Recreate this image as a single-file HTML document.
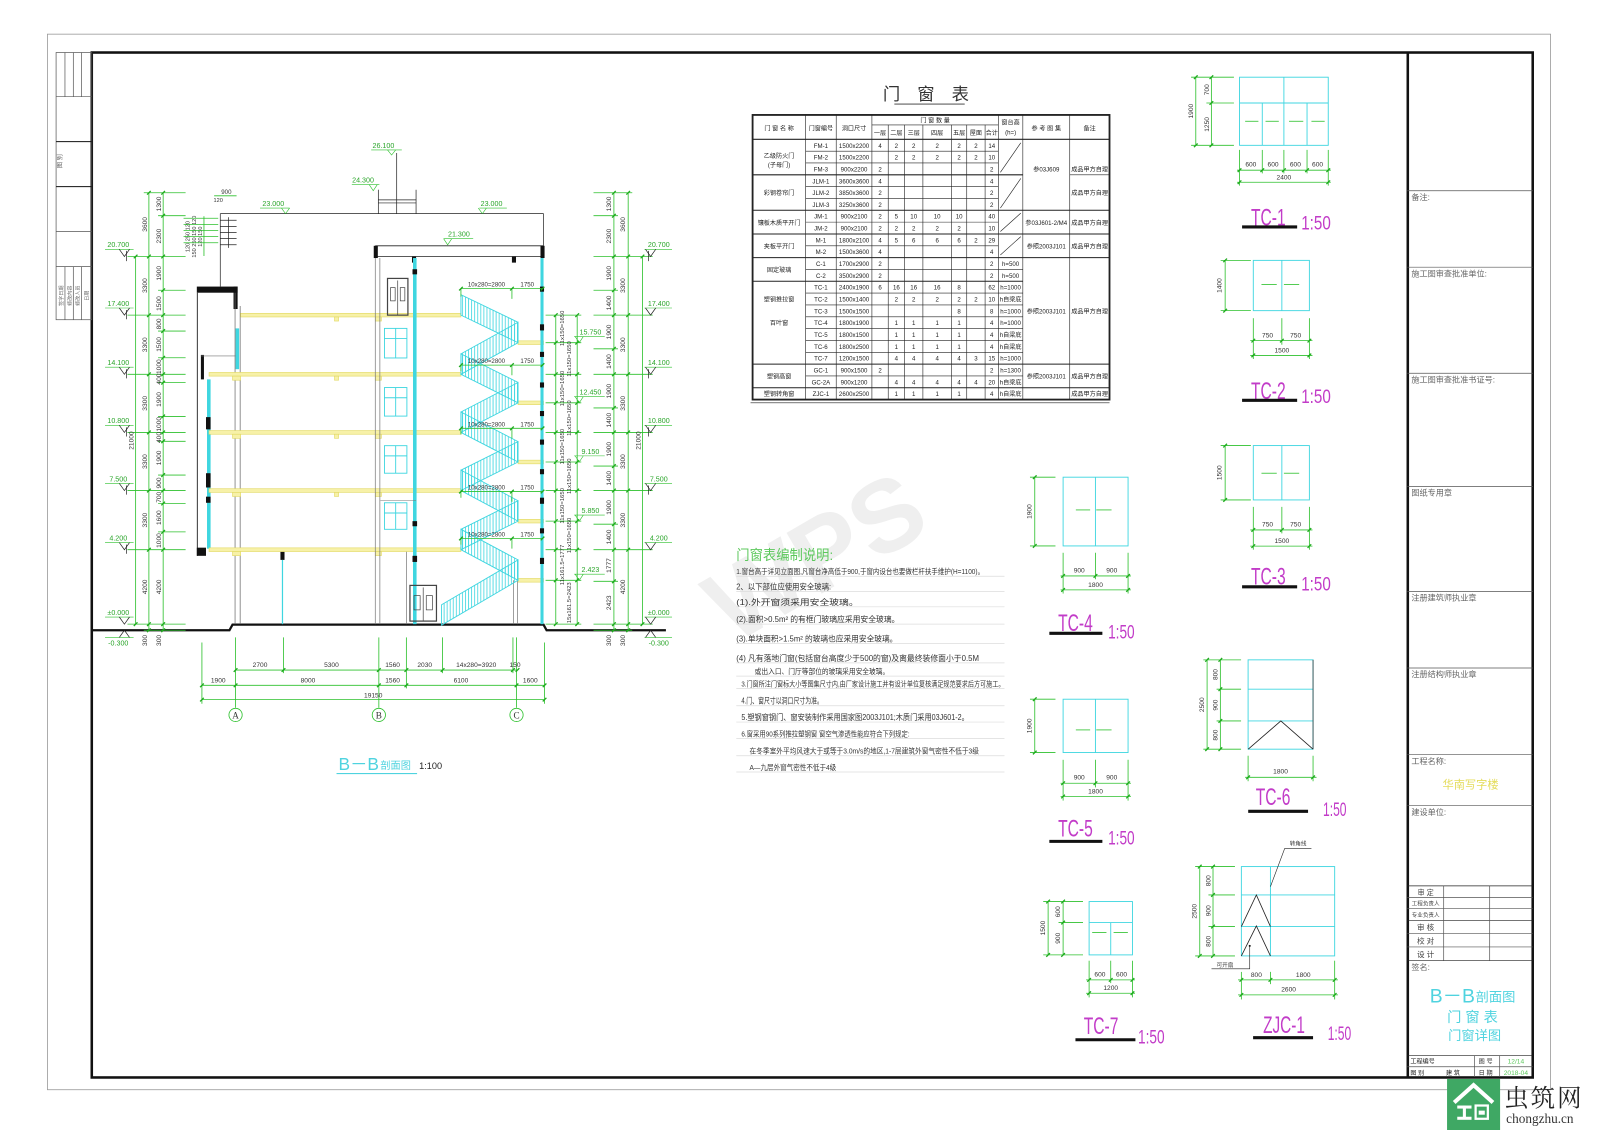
<!DOCTYPE html>
<html><head><meta charset="utf-8">
<style>
html,body{margin:0;padding:0;background:#fff;width:1599px;height:1130px;overflow:hidden}
svg{display:block}
text{font-family:"Liberation Sans","Noto Sans CJK SC",sans-serif}
.t{font-size:6.5px;fill:#333}
.tm{font-size:6.5px;fill:#333;text-anchor:middle}
.e{font-size:7px;fill:#2aa52a;text-anchor:middle}
.tb{font-size:6px;fill:#222;text-anchor:middle}
.n{font-size:8px;fill:#333}
.tt{font-size:8px;fill:#666}
.mg{fill:#c23cc8;font-size:24px}
.ms{fill:#c23cc8;font-size:19px}
.d{stroke:#2cc02c;stroke-width:0.8;fill:none}
.cy{stroke:#3fd6e0;fill:none}
.k{stroke:#222;fill:none}
</style></head><body>
<svg width="1599" height="1130" viewBox="0 0 1568 1108" preserveAspectRatio="none">
<defs>
<pattern id="bal" width="3" height="40" patternUnits="userSpaceOnUse"><line x1="0.5" y1="0" x2="0.5" y2="40" stroke="#3fd6e0" stroke-width="0.8"/></pattern>
<path id="tk" d="M-1.8,1.8L1.8,-1.8" stroke="#1faa1f" stroke-width="1.3" fill="none"/>
</defs>

<!-- frames -->
<rect x="46.5" y="33.5" width="1474" height="1035" fill="none" stroke="#9a9a9a" stroke-width="0.8"/>
<rect x="90" y="51.5" width="1413" height="1005" fill="none" stroke="#111" stroke-width="2.5"/>
<line x1="1380.5" y1="51.5" x2="1380.5" y2="1056.5" stroke="#111" stroke-width="2.5"/>

<!-- left strip -->
<g stroke="#555" stroke-width="0.7" fill="none">
<rect x="55" y="51.5" width="35" height="262"/>
<line x1="55" y1="94.8" x2="90" y2="94.8"/>
<line x1="55" y1="138.9" x2="90" y2="138.9" stroke="#111" stroke-width="1"/>
<line x1="55" y1="183" x2="90" y2="183" stroke="#111" stroke-width="1"/>
<line x1="55" y1="227.1" x2="90" y2="227.1"/>
<line x1="55" y1="261.4" x2="90" y2="261.4"/>
<line x1="63.7" y1="51.5" x2="63.7" y2="94.8"/><line x1="71.9" y1="51.5" x2="71.9" y2="94.8"/><line x1="80" y1="51.5" x2="80" y2="94.8"/>
<line x1="63.7" y1="261.4" x2="63.7" y2="313.5"/><line x1="71.9" y1="261.4" x2="71.9" y2="313.5"/><line x1="80" y1="261.4" x2="80" y2="313.5"/>
</g>
<text transform="translate(61,158) rotate(-90)" class="tt" style="font-size:6px" text-anchor="middle">图 别</text>
<text transform="translate(62,290) rotate(-90)" class="tt" style="font-size:5px" text-anchor="middle">签字日期</text>
<text transform="translate(70,290) rotate(-90)" class="tt" style="font-size:5px" text-anchor="middle">修改内容</text>
<text transform="translate(78,290) rotate(-90)" class="tt" style="font-size:5px" text-anchor="middle">修改人员</text>
<text transform="translate(87,290) rotate(-90)" class="tt" style="font-size:5px" text-anchor="middle">日期</text>

<!-- watermark -->
<text x="680" y="600" transform="rotate(-30 760 545)" font-size="100" font-weight="bold" fill="#efefef" font-family="Liberation Sans">WPS</text>

<!-- ===== SECTION B-B ===== -->
<!-- ground -->
<polyline points="91,618 225,618 228,612.5 533,612.5 536,618 653,618" fill="none" stroke="#111" stroke-width="2.2"/>

<!-- left part -->
<rect x="193" y="281" width="40" height="6" fill="#111"/>
<rect x="229" y="281" width="4" height="22" fill="#111"/>
<line x1="193.5" y1="287" x2="193.5" y2="545" class="k" stroke-width="0.9"/>
<rect x="197" y="348" width="3" height="24" fill="#111"/>
<line x1="197" y1="349" x2="232" y2="349" stroke="#777" stroke-width="0.6"/>
<rect x="203" y="372" width="3.5" height="166" fill="#3fd6e0"/>
<rect x="202" y="409" width="4.5" height="12" fill="#111"/>
<rect x="202" y="464" width="4.5" height="14" fill="#111"/>
<rect x="202" y="487" width="4.5" height="6" fill="#111"/>
<rect x="193" y="537" width="9" height="8" fill="#111"/>
<line x1="230.5" y1="287" x2="230.5" y2="612" stroke="#666" stroke-width="0.7"/>
<line x1="235.5" y1="300" x2="235.5" y2="612" stroke="#666" stroke-width="0.7"/>
<rect x="231" y="322" width="3.5" height="40" fill="#3fd6e0"/>
<rect x="275" y="541" width="4" height="8" fill="#111"/>
<line x1="277" y1="549" x2="277" y2="612" class="cy" stroke-width="1.2"/>
<!-- parapet & railing -->
<line x1="216" y1="209.5" x2="216" y2="281" class="k" stroke-width="0.7"/>
<line x1="216" y1="209.5" x2="533" y2="209.5" class="k" stroke-width="0.7"/>
<line x1="533" y1="209.5" x2="533" y2="241" class="k" stroke-width="0.7"/>
<g class="k" stroke-width="0.7"><line x1="216" y1="216" x2="232" y2="216"/><line x1="216" y1="222" x2="232" y2="222"/><line x1="216" y1="228" x2="232" y2="228"/><line x1="216" y1="234" x2="232" y2="234"/><line x1="216" y1="240" x2="232" y2="240"/><line x1="224" y1="213" x2="224" y2="243"/></g>
<!-- roof slab -->
<line x1="368" y1="241" x2="533" y2="241" class="k" stroke-width="0.8"/>
<line x1="370" y1="251.5" x2="531" y2="251.5" class="k" stroke-width="0.8"/>
<rect x="366.5" y="241" width="4" height="12" fill="#111"/>
<rect x="530" y="241" width="4" height="12" fill="#111"/>
<rect x="404" y="251.5" width="4" height="6" fill="#111"/>
<rect x="502" y="251.5" width="4" height="6" fill="#111"/>
<!-- stair tower on roof -->
<g class="k" stroke-width="0.7"><line x1="371" y1="186" x2="371" y2="209.5"/><line x1="408" y1="186" x2="408" y2="209.5"/><line x1="371" y1="196" x2="408" y2="196"/><line x1="371" y1="199" x2="408" y2="199"/><line x1="389" y1="150" x2="389" y2="209.5"/></g>

<!-- top elevation markers -->
<g stroke="#2cc02c" stroke-width="0.6" fill="none">
<line x1="364" y1="147" x2="394" y2="147"/><polyline points="380,147 384,152 388,147"/>
<line x1="345" y1="181" x2="372" y2="181"/><polyline points="362,181 366,187 370,181"/>
<line x1="255" y1="204" x2="284" y2="204"/><polyline points="276,204 280,209.5 284,204"/>
<line x1="470" y1="204" x2="497" y2="204"/><polyline points="469,204 473,209.5 477,204"/>
<line x1="435" y1="234" x2="464" y2="234"/><polyline points="435,234 439,240 443,234"/>
</g>
<text x="376" y="145" class="e">26.100</text>
<text x="356" y="179" class="e">24.300</text>
<text x="268" y="202" class="e">23.000</text>
<text x="482" y="202" class="e">23.000</text>
<text x="450" y="232" class="e">21.300</text>
<text x="222" y="190" class="tm" style="font-size:6px">900</text>
<text x="214" y="198" class="tm" style="font-size:5.5px">120</text>
<line x1="210" y1="192" x2="232" y2="192" class="d"/>
<text transform="translate(186,232) rotate(-90)" class="tm" style="font-size:5.5px">120 250 120</text>
<text transform="translate(192,232) rotate(-90)" class="tm" style="font-size:5.5px">150 250 150 120</text>
<text transform="translate(198,232) rotate(-90)" class="tm" style="font-size:5.5px">120 150</text>
<g class="d"><line x1="180" y1="214" x2="214" y2="214"/><line x1="180" y1="220" x2="214" y2="220"/><line x1="180" y1="226" x2="214" y2="226"/><line x1="180" y1="232" x2="214" y2="232"/><line x1="180" y1="238" x2="214" y2="238"/><line x1="200" y1="212" x2="200" y2="251"/></g>

<!-- floor slabs -->
<g fill="#f7f1a8" stroke="#e2d962" stroke-width="0.6">
<rect x="236" y="307.2" width="216" height="3.6"/>
<rect x="205" y="365.2" width="247" height="3.6"/>
<rect x="205" y="422.2" width="247" height="3.6"/>
<rect x="205" y="479.2" width="247" height="3.6"/>
<rect x="205" y="537.2" width="247" height="3.6"/>
<rect x="508" y="334.2" width="25" height="3.6"/>
<rect x="508" y="393.2" width="25" height="3.6"/>
<rect x="508" y="451.2" width="25" height="3.6"/>
<rect x="508" y="509.2" width="25" height="3.6"/>
<rect x="508" y="567.2" width="25" height="3.6"/>
<rect x="328" y="310.8" width="4" height="4"/><rect x="328" y="368.8" width="4" height="4"/><rect x="328" y="425.8" width="4" height="4"/><rect x="328" y="482.8" width="4" height="4"/>
<rect x="368" y="310.8" width="6" height="4"/><rect x="368" y="368.8" width="6" height="4"/><rect x="368" y="425.8" width="6" height="4"/><rect x="368" y="482.8" width="6" height="4"/><rect x="368" y="540.8" width="6" height="4"/>
<rect x="228" y="540.8" width="8" height="4"/><rect x="228" y="482.8" width="8" height="4"/><rect x="228" y="425.8" width="8" height="4"/><rect x="228" y="368.8" width="8" height="4"/>
</g>

<!-- axis B area -->
<line x1="368" y1="253" x2="368" y2="612" stroke="#777" stroke-width="0.7"/>
<line x1="372.5" y1="253" x2="372.5" y2="612" stroke="#777" stroke-width="0.7"/>
<rect x="405" y="253" width="3.5" height="359" fill="#3fd6e0"/>
<line x1="398.5" y1="541" x2="398.5" y2="612" stroke="#777" stroke-width="0.7"/>
<rect x="404.5" y="264" width="4.5" height="5" fill="#111"/>
<rect x="404.5" y="511" width="4.5" height="5" fill="#111"/>
<rect x="404.5" y="545" width="4.5" height="6" fill="#111"/>
<!-- door top -->
<g stroke="#444" stroke-width="0.7" fill="none">
<rect x="380" y="273" width="20" height="36" stroke-width="1.2"/>
<line x1="390" y1="275" x2="390" y2="309"/>
<rect x="383" y="282" width="4.5" height="13"/><rect x="392.5" y="282" width="4.5" height="13"/>
<rect x="402" y="574" width="26" height="35" stroke-width="1.2"/>
<line x1="415" y1="576" x2="415" y2="609"/>
<rect x="406" y="584" width="6" height="14"/><rect x="418" y="584" width="6" height="14"/>
</g>
<!-- windows -->
<g class="cy" stroke-width="0.9">
<rect x="377" y="322" width="22" height="29"/><line x1="388" y1="322" x2="388" y2="351"/><line x1="377" y1="332" x2="399" y2="332"/>
<rect x="377" y="380" width="22" height="28"/><line x1="388" y1="380" x2="388" y2="408"/><line x1="377" y1="390" x2="399" y2="390"/>
<rect x="377" y="437" width="22" height="27"/><line x1="388" y1="437" x2="388" y2="464"/><line x1="377" y1="447" x2="399" y2="447"/>
<rect x="377" y="493" width="22" height="26"/><line x1="388" y1="493" x2="388" y2="519"/><line x1="377" y1="503" x2="399" y2="503"/>
</g>
<line x1="373" y1="491" x2="408" y2="491" stroke="#777" stroke-width="0.6"/>

<!-- right wall (C) -->
<rect x="530" y="253" width="3" height="359" fill="#3fd6e0"/>
<line x1="503.5" y1="569" x2="503.5" y2="612" stroke="#777" stroke-width="0.7"/>
<line x1="507.5" y1="569" x2="507.5" y2="612" stroke="#777" stroke-width="0.7"/>
<g fill="#111">
<rect x="529.5" y="281" width="4" height="5"/><rect x="529.5" y="318" width="4" height="6"/><rect x="529.5" y="345" width="4" height="5"/>
<rect x="529.5" y="375" width="4" height="5"/><rect x="529.5" y="403" width="4" height="5"/><rect x="529.5" y="431" width="4" height="5"/>
<rect x="529.5" y="460" width="4" height="5"/><rect x="529.5" y="488" width="4" height="6"/><rect x="529.5" y="518" width="4" height="5"/>
<rect x="529.5" y="547" width="4" height="6"/>
</g>

<!-- stairs -->
<g fill="url(#bal)" stroke="#3fd6e0" stroke-width="0.9">
<polygon points="433,593 508,549 508,569 433,613"/>
<polygon points="508,549 452,519 452,539 508,569"/>
<polygon points="452,519 508,491 508,511 452,539"/>
<polygon points="508,491 452,461 452,481 508,511"/>
<polygon points="452,461 508,433 508,453 452,481"/>
<polygon points="508,433 452,404 452,424 508,453"/>
<polygon points="452,404 508,375 508,395 452,424"/>
<polygon points="508,375 452,347 452,367 508,395"/>
<polygon points="452,347 508,316 508,336 452,367"/>
<polygon points="508,316 452,289 452,309 508,336"/>
</g>

<!-- stair dims -->
<g class="d">
<line x1="452" y1="283" x2="532" y2="283"/><line x1="452" y1="358" x2="532" y2="358"/><line x1="452" y1="420" x2="532" y2="420"/><line x1="452" y1="482" x2="532" y2="482"/><line x1="452" y1="528" x2="532" y2="528"/>
<line x1="502" y1="283" x2="502" y2="293"/><line x1="502" y1="358" x2="502" y2="368"/><line x1="502" y1="420" x2="502" y2="430"/><line x1="502" y1="482" x2="502" y2="492"/><line x1="502" y1="528" x2="502" y2="538"/>
<line x1="452" y1="283" x2="452" y2="291"/><line x1="452" y1="358" x2="452" y2="364"/><line x1="452" y1="420" x2="452" y2="426"/><line x1="452" y1="482" x2="452" y2="488"/><line x1="452" y1="528" x2="452" y2="534"/>
<line x1="545" y1="309" x2="545" y2="612"/><line x1="566" y1="309" x2="566" y2="612"/>
<line x1="535" y1="309" x2="570" y2="309"/><line x1="535" y1="336" x2="570" y2="336"/><line x1="535" y1="367" x2="570" y2="367"/><line x1="535" y1="395" x2="570" y2="395"/><line x1="535" y1="424" x2="570" y2="424"/><line x1="535" y1="453" x2="570" y2="453"/><line x1="535" y1="481" x2="570" y2="481"/><line x1="535" y1="511" x2="570" y2="511"/><line x1="535" y1="539" x2="570" y2="539"/><line x1="535" y1="569" x2="570" y2="569"/><line x1="535" y1="612" x2="570" y2="612"/>
</g>
<g>
<use href="#tk" x="452" y="283"/><use href="#tk" x="502" y="283"/><use href="#tk" x="532" y="283"/>
<use href="#tk" x="452" y="358"/><use href="#tk" x="502" y="358"/><use href="#tk" x="532" y="358"/>
<use href="#tk" x="452" y="420"/><use href="#tk" x="502" y="420"/><use href="#tk" x="532" y="420"/>
<use href="#tk" x="452" y="482"/><use href="#tk" x="502" y="482"/><use href="#tk" x="532" y="482"/>
<use href="#tk" x="452" y="528"/><use href="#tk" x="502" y="528"/><use href="#tk" x="532" y="528"/>
<use href="#tk" x="545" y="309"/><use href="#tk" x="545" y="336"/><use href="#tk" x="545" y="367"/><use href="#tk" x="545" y="395"/><use href="#tk" x="545" y="424"/><use href="#tk" x="545" y="453"/><use href="#tk" x="545" y="481"/><use href="#tk" x="545" y="511"/><use href="#tk" x="545" y="539"/><use href="#tk" x="545" y="569"/><use href="#tk" x="545" y="612"/>
<use href="#tk" x="566" y="309"/><use href="#tk" x="566" y="336"/><use href="#tk" x="566" y="367"/><use href="#tk" x="566" y="395"/><use href="#tk" x="566" y="424"/><use href="#tk" x="566" y="453"/><use href="#tk" x="566" y="481"/><use href="#tk" x="566" y="511"/><use href="#tk" x="566" y="539"/><use href="#tk" x="566" y="569"/><use href="#tk" x="566" y="612"/>
</g>
<g class="tm" style="font-size:6px">
<text x="477" y="281">10x280=2800</text><text x="517" y="281">1750</text>
<text x="477" y="356">10x280=2800</text><text x="517" y="356">1750</text>
<text x="477" y="418">10x280=2800</text><text x="517" y="418">1750</text>
<text x="477" y="480">10x280=2800</text><text x="517" y="480">1750</text>
<text x="477" y="526">10x280=2800</text><text x="517" y="526">1750</text>
</g>
<g class="tm" style="font-size:5.8px">
<text transform="translate(553,322) rotate(-90)">11x150=1650</text>
<text transform="translate(560,352) rotate(-90)">11x150=1650</text>
<text transform="translate(553,381) rotate(-90)">11x150=1650</text>
<text transform="translate(560,410) rotate(-90)">11x150=1650</text>
<text transform="translate(553,438) rotate(-90)">11x150=1650</text>
<text transform="translate(560,467) rotate(-90)">11x150=1650</text>
<text transform="translate(553,496) rotate(-90)">11x150=1650</text>
<text transform="translate(560,525) rotate(-90)">11x150=1650</text>
<text transform="translate(553,554) rotate(-90)">11x161.5=1777</text>
<text transform="translate(560,591) rotate(-90)">15x161.5=2423</text>
</g>
<!-- landing elevations -->
<g stroke="#2cc02c" stroke-width="0.6" fill="none">
<line x1="563" y1="330" x2="593" y2="330"/><polyline points="564,330 568,336 572,330"/>
<line x1="563" y1="389" x2="593" y2="389"/><polyline points="564,389 568,395 572,389"/>
<line x1="563" y1="447" x2="593" y2="447"/><polyline points="564,447 568,453 572,447"/>
<line x1="563" y1="505" x2="593" y2="505"/><polyline points="564,505 568,511 572,505"/>
<line x1="563" y1="563" x2="593" y2="563"/><polyline points="564,563 568,569 572,563"/>
</g>
<text x="579" y="328" class="e">15.750</text>
<text x="579" y="387" class="e">12.450</text>
<text x="579" y="445" class="e">9.150</text>
<text x="579" y="503" class="e">5.850</text>
<text x="579" y="561" class="e">2.423</text>

<!-- left dimension chains -->
<g class="d">
<line x1="146" y1="189" x2="146" y2="618"/><line x1="160" y1="189" x2="160" y2="618"/><line x1="133" y1="251.5" x2="133" y2="612"/>
<line x1="141" y1="189" x2="182" y2="189"/><line x1="125" y1="251.5" x2="182" y2="251.5"/><line x1="125" y1="309" x2="182" y2="309"/><line x1="125" y1="367" x2="182" y2="367"/><line x1="125" y1="424" x2="182" y2="424"/><line x1="125" y1="481" x2="182" y2="481"/><line x1="125" y1="539" x2="182" y2="539"/><line x1="125" y1="612" x2="182" y2="612"/><line x1="141" y1="618" x2="182" y2="618"/>
<line x1="155" y1="211.5" x2="182" y2="211.5"/><line x1="155" y1="284.6" x2="182" y2="284.6"/><line x1="155" y1="324.6" x2="182" y2="324.6"/><line x1="155" y1="350.8" x2="182" y2="350.8"/><line x1="155" y1="375.2" x2="182" y2="375.2"/><line x1="155" y1="408.3" x2="182" y2="408.3"/><line x1="155" y1="432.7" x2="182" y2="432.7"/><line x1="155" y1="465.8" x2="182" y2="465.8"/><line x1="155" y1="493.7" x2="182" y2="493.7"/><line x1="155" y1="521.5" x2="182" y2="521.5"/>
</g>
<g>
<use href="#tk" x="146" y="189"/><use href="#tk" x="146" y="251.5"/><use href="#tk" x="146" y="309"/><use href="#tk" x="146" y="367"/><use href="#tk" x="146" y="424"/><use href="#tk" x="146" y="481"/><use href="#tk" x="146" y="539"/><use href="#tk" x="146" y="612"/><use href="#tk" x="146" y="618"/>
<use href="#tk" x="160" y="189"/><use href="#tk" x="160" y="211.5"/><use href="#tk" x="160" y="251.5"/><use href="#tk" x="160" y="284.6"/><use href="#tk" x="160" y="309"/><use href="#tk" x="160" y="324.6"/><use href="#tk" x="160" y="350.8"/><use href="#tk" x="160" y="367"/><use href="#tk" x="160" y="375.2"/><use href="#tk" x="160" y="408.3"/><use href="#tk" x="160" y="424"/><use href="#tk" x="160" y="432.7"/><use href="#tk" x="160" y="465.8"/><use href="#tk" x="160" y="481"/><use href="#tk" x="160" y="493.7"/><use href="#tk" x="160" y="521.5"/><use href="#tk" x="160" y="539"/><use href="#tk" x="160" y="612"/><use href="#tk" x="160" y="618"/>
<use href="#tk" x="133" y="251.5"/><use href="#tk" x="133" y="612"/>
</g>
<g class="tm">
<text transform="translate(144,220) rotate(-90)">3600</text><text transform="translate(144,280) rotate(-90)">3300</text><text transform="translate(144,338) rotate(-90)">3300</text><text transform="translate(144,395.5) rotate(-90)">3300</text><text transform="translate(144,452.5) rotate(-90)">3300</text><text transform="translate(144,510) rotate(-90)">3300</text><text transform="translate(144,575.5) rotate(-90)">4200</text><text transform="translate(144,628) rotate(-90)">300</text>
<text transform="translate(158,200) rotate(-90)">1300</text><text transform="translate(158,231.5) rotate(-90)">2300</text><text transform="translate(158,268) rotate(-90)">1900</text><text transform="translate(158,297.6) rotate(-90)">1500</text><text transform="translate(158,317.6) rotate(-90)">800</text><text transform="translate(158,337.7) rotate(-90)">1500</text><text transform="translate(158,359.5) rotate(-90)">1000</text><text transform="translate(158,371.7) rotate(-90)">400</text><text transform="translate(158,391.7) rotate(-90)">1900</text><text transform="translate(158,416) rotate(-90)">1000</text><text transform="translate(158,429) rotate(-90)">400</text><text transform="translate(158,449) rotate(-90)">1900</text><text transform="translate(158,473.6) rotate(-90)">900</text><text transform="translate(158,487.6) rotate(-90)">700</text><text transform="translate(158,507.6) rotate(-90)">1600</text><text transform="translate(158,530) rotate(-90)">1000</text><text transform="translate(158,575.5) rotate(-90)">4200</text><text transform="translate(158,628) rotate(-90)">300</text>
<text transform="translate(131,432) rotate(-90)">21000</text>
</g>
<!-- left elevation markers -->
<g stroke="#2cc02c" stroke-width="0.6" fill="none">
<line x1="103" y1="244.5" x2="131" y2="244.5"/><line x1="103" y1="302" x2="131" y2="302"/><line x1="103" y1="360" x2="131" y2="360"/><line x1="103" y1="417" x2="131" y2="417"/><line x1="103" y1="474" x2="131" y2="474"/><line x1="103" y1="532" x2="131" y2="532"/><line x1="103" y1="605" x2="131" y2="605"/><line x1="103" y1="625" x2="131" y2="625"/>
</g>
<g class="k" stroke-width="0.7">
<polyline points="117,244.5 122,251.5 127,244.5"/><polyline points="117,302 122,309 127,302"/><polyline points="117,360 122,367 127,360"/><polyline points="117,417 122,424 127,417"/><polyline points="117,474 122,481 127,474"/><polyline points="117,532 122,539 127,532"/><polyline points="117,605 122,612 127,605"/><polyline points="117,625 122,618 127,625"/>
<line x1="124" y1="246" x2="124" y2="256"/><line x1="124" y1="304" x2="124" y2="313"/><line x1="124" y1="362" x2="124" y2="371"/><line x1="124" y1="419" x2="124" y2="428"/><line x1="124" y1="476" x2="124" y2="485"/><line x1="124" y1="534" x2="124" y2="543"/>
</g>
<text x="116" y="242" class="e">20.700</text><text x="116" y="300" class="e">17.400</text><text x="116" y="358" class="e">14.100</text><text x="116" y="415" class="e">10.800</text><text x="116" y="472" class="e">7.500</text><text x="116" y="530" class="e">4.200</text><text x="116" y="603" class="e">±0.000</text><text x="116" y="633" class="e">-0.300</text>

<!-- right dimension chains -->
<g class="d">
<line x1="602" y1="189" x2="602" y2="618"/><line x1="616" y1="189" x2="616" y2="618"/><line x1="630" y1="251.5" x2="630" y2="612"/>
<line x1="582" y1="189" x2="620" y2="189"/><line x1="582" y1="211.5" x2="606" y2="211.5"/><line x1="582" y1="251.5" x2="640" y2="251.5"/><line x1="582" y1="284.6" x2="606" y2="284.6"/><line x1="582" y1="309" x2="640" y2="309"/><line x1="582" y1="342" x2="606" y2="342"/><line x1="582" y1="367" x2="640" y2="367"/><line x1="582" y1="400" x2="606" y2="400"/><line x1="582" y1="424" x2="640" y2="424"/><line x1="582" y1="457" x2="606" y2="457"/><line x1="582" y1="481" x2="640" y2="481"/><line x1="582" y1="514" x2="606" y2="514"/><line x1="582" y1="539" x2="640" y2="539"/><line x1="582" y1="570" x2="606" y2="570"/><line x1="582" y1="612" x2="640" y2="612"/><line x1="582" y1="618" x2="620" y2="618"/>
</g>
<g>
<use href="#tk" x="602" y="189"/><use href="#tk" x="602" y="211.5"/><use href="#tk" x="602" y="251.5"/><use href="#tk" x="602" y="284.6"/><use href="#tk" x="602" y="309"/><use href="#tk" x="602" y="342"/><use href="#tk" x="602" y="367"/><use href="#tk" x="602" y="400"/><use href="#tk" x="602" y="424"/><use href="#tk" x="602" y="457"/><use href="#tk" x="602" y="481"/><use href="#tk" x="602" y="514"/><use href="#tk" x="602" y="539"/><use href="#tk" x="602" y="570"/><use href="#tk" x="602" y="612"/><use href="#tk" x="602" y="618"/>
<use href="#tk" x="616" y="189"/><use href="#tk" x="616" y="251.5"/><use href="#tk" x="616" y="309"/><use href="#tk" x="616" y="367"/><use href="#tk" x="616" y="424"/><use href="#tk" x="616" y="481"/><use href="#tk" x="616" y="539"/><use href="#tk" x="616" y="612"/><use href="#tk" x="616" y="618"/>
<use href="#tk" x="630" y="251.5"/><use href="#tk" x="630" y="612"/>
</g>
<g class="tm">
<text transform="translate(599,200) rotate(-90)">1300</text><text transform="translate(599,231.5) rotate(-90)">2300</text><text transform="translate(599,268) rotate(-90)">1900</text><text transform="translate(599,297) rotate(-90)">1400</text><text transform="translate(599,325.5) rotate(-90)">1900</text><text transform="translate(599,354.5) rotate(-90)">1400</text><text transform="translate(599,383.5) rotate(-90)">1900</text><text transform="translate(599,412) rotate(-90)">1400</text><text transform="translate(599,440.5) rotate(-90)">1900</text><text transform="translate(599,469) rotate(-90)">1400</text><text transform="translate(599,497.5) rotate(-90)">1900</text><text transform="translate(599,526.5) rotate(-90)">1400</text><text transform="translate(599,554.5) rotate(-90)">1777</text><text transform="translate(599,591) rotate(-90)">2423</text><text transform="translate(599,628) rotate(-90)">300</text>
<text transform="translate(613,220) rotate(-90)">3600</text><text transform="translate(613,280) rotate(-90)">3300</text><text transform="translate(613,338) rotate(-90)">3300</text><text transform="translate(613,395.5) rotate(-90)">3300</text><text transform="translate(613,452.5) rotate(-90)">3300</text><text transform="translate(613,510) rotate(-90)">3300</text><text transform="translate(613,575.5) rotate(-90)">4200</text><text transform="translate(613,628) rotate(-90)">300</text>
<text transform="translate(628,432) rotate(-90)">21000</text>
</g>
<g stroke="#2cc02c" stroke-width="0.6" fill="none">
<line x1="632" y1="244.5" x2="659" y2="244.5"/><line x1="632" y1="302" x2="659" y2="302"/><line x1="632" y1="360" x2="659" y2="360"/><line x1="632" y1="417" x2="659" y2="417"/><line x1="632" y1="474" x2="659" y2="474"/><line x1="632" y1="532" x2="659" y2="532"/><line x1="632" y1="605" x2="659" y2="605"/><line x1="632" y1="625" x2="659" y2="625"/>
</g>
<g class="k" stroke-width="0.7">
<polyline points="633,244.5 638,251.5 643,244.5"/><polyline points="633,302 638,309 643,302"/><polyline points="633,360 638,367 643,360"/><polyline points="633,417 638,424 643,417"/><polyline points="633,474 638,481 643,474"/><polyline points="633,532 638,539 643,532"/><polyline points="633,605 638,612 643,605"/><polyline points="633,625 638,618 643,625"/>
<line x1="636" y1="246" x2="636" y2="256"/><line x1="636" y1="362" x2="636" y2="371"/><line x1="636" y1="419" x2="636" y2="428"/><line x1="636" y1="476" x2="636" y2="485"/>
</g>
<text x="646" y="242" class="e">20.700</text><text x="646" y="300" class="e">17.400</text><text x="646" y="358" class="e">14.100</text><text x="646" y="415" class="e">10.800</text><text x="646" y="472" class="e">7.500</text><text x="646" y="530" class="e">4.200</text><text x="646" y="603" class="e">±0.000</text><text x="646" y="633" class="e">-0.300</text>

<!-- bottom dims -->
<g class="d">
<line x1="198" y1="630" x2="198" y2="690"/><line x1="231" y1="625" x2="231" y2="694"/><line x1="278" y1="625" x2="278" y2="660"/><line x1="371.5" y1="625" x2="371.5" y2="694"/><line x1="398.5" y1="625" x2="398.5" y2="675"/><line x1="434" y1="625" x2="434" y2="660"/><line x1="503" y1="625" x2="503" y2="660"/><line x1="506.5" y1="625" x2="506.5" y2="694"/><line x1="534" y1="630" x2="534" y2="690"/>
<line x1="231" y1="657" x2="507.5" y2="657"/><line x1="198" y1="672" x2="534" y2="672"/><line x1="198" y1="686" x2="534" y2="686"/>
<circle cx="231" cy="701" r="6.5"/><circle cx="371.5" cy="701" r="6.5"/><circle cx="506.5" cy="701" r="6.5"/>
</g>
<g>
<use href="#tk" x="231" y="657"/><use href="#tk" x="278" y="657"/><use href="#tk" x="371.5" y="657"/><use href="#tk" x="398.5" y="657"/><use href="#tk" x="434" y="657"/><use href="#tk" x="503" y="657"/><use href="#tk" x="507.5" y="657"/>
<use href="#tk" x="198" y="672"/><use href="#tk" x="231" y="672"/><use href="#tk" x="371.5" y="672"/><use href="#tk" x="398.5" y="672"/><use href="#tk" x="506.5" y="672"/><use href="#tk" x="534" y="672"/>
<use href="#tk" x="198" y="686"/><use href="#tk" x="534" y="686"/>
</g>
<g class="tm">
<text x="255" y="654">2700</text><text x="325" y="654">5300</text><text x="385" y="654">1560</text><text x="416.5" y="654">2030</text><text x="467" y="654">14x280=3920</text><text x="505" y="654">150</text>
<text x="214" y="669">1900</text><text x="302" y="669">8000</text><text x="385" y="669">1560</text><text x="452" y="669">6100</text><text x="520" y="669">1600</text>
<text x="366" y="684">19150</text>
</g>
<g font-family="Liberation Serif" font-size="9" fill="#333" text-anchor="middle">
<text x="231" y="704.5" style="font-family:'Liberation Serif',serif">A</text><text x="371.5" y="704.5" style="font-family:'Liberation Serif',serif">B</text><text x="506.5" y="704.5" style="font-family:'Liberation Serif',serif">C</text>
</g>
<text x="332" y="755" style="font-size:17px;fill:#4fd3df">B－B</text>
<text x="373" y="754" style="font-size:10px;fill:#4fd3df">剖面图</text>
<text x="411" y="754" style="font-size:9px;fill:#222">1:100</text>
<line x1="330" y1="758.5" x2="409" y2="758.5" stroke="#4fd3df" stroke-width="1.2"/>

<!-- ===== DOOR/WINDOW TABLE ===== -->
<text x="911" y="98" text-anchor="middle" style="font-size:17px;fill:#333;letter-spacing:6px">门 窗 表</text>
<line x1="877" y1="102" x2="946" y2="102" stroke="#333" stroke-width="0.9"/>
<g stroke="#222" stroke-width="0.6" fill="none">
<rect x="738" y="112.7" width="350" height="279.1" stroke-width="1.8"/>
<line x1="736" y1="395" x2="1088" y2="395" stroke-width="0.6"/>
<!-- verticals -->
<line x1="790" y1="112.7" x2="790" y2="391.8"/><line x1="820" y1="112.7" x2="820" y2="391.8"/><line x1="855" y1="112.7" x2="855" y2="391.8"/>
<line x1="871" y1="122.5" x2="871" y2="391.8"/><line x1="887" y1="122.5" x2="887" y2="391.8"/><line x1="905" y1="122.5" x2="905" y2="391.8"/><line x1="933" y1="122.5" x2="933" y2="391.8"/><line x1="948" y1="122.5" x2="948" y2="391.8"/><line x1="966" y1="122.5" x2="966" y2="391.8"/>
<line x1="979" y1="112.7" x2="979" y2="391.8"/><line x1="1003" y1="112.7" x2="1003" y2="391.8"/><line x1="1049" y1="112.7" x2="1049" y2="391.8"/>
<line x1="855" y1="122.5" x2="979" y2="122.5"/>
<!-- full group lines -->
<line x1="738" y1="136.6" x2="1088" y2="136.6" stroke-width="1"/>
<line x1="738" y1="206.2" x2="1088" y2="206.2" stroke-width="1"/>
<line x1="738" y1="229.4" x2="1088" y2="229.4" stroke-width="1"/>
<line x1="738" y1="252.6" x2="1088" y2="252.6" stroke-width="1"/>
<line x1="738" y1="357" x2="1088" y2="357" stroke-width="1"/>
<line x1="738" y1="380.2" x2="1088" y2="380.2" stroke-width="1"/>
<line x1="738" y1="171.4" x2="1003" y2="171.4" stroke-width="1"/><line x1="1049" y1="171.4" x2="1088" y2="171.4"/>
<line x1="738" y1="275.8" x2="1003" y2="275.8" stroke-width="1"/>
<!-- partial lines -->
<line x1="790" y1="148.2" x2="979" y2="148.2"/><line x1="790" y1="159.8" x2="979" y2="159.8"/><line x1="790" y1="183" x2="979" y2="183"/><line x1="790" y1="194.6" x2="979" y2="194.6"/><line x1="790" y1="217.8" x2="979" y2="217.8"/><line x1="790" y1="241" x2="979" y2="241"/>
<line x1="790" y1="264.2" x2="1003" y2="264.2"/><line x1="790" y1="287.4" x2="1003" y2="287.4"/><line x1="790" y1="299" x2="1003" y2="299"/><line x1="790" y1="310.6" x2="1003" y2="310.6"/><line x1="790" y1="322.2" x2="1003" y2="322.2"/><line x1="790" y1="333.8" x2="1003" y2="333.8"/><line x1="790" y1="345.4" x2="1003" y2="345.4"/><line x1="790" y1="368.6" x2="1003" y2="368.6"/>
<!-- diagonals -->
<line x1="981" y1="169" x2="1001" y2="140"/><line x1="981" y1="204" x2="1001" y2="175"/><line x1="981" y1="227" x2="1001" y2="209"/><line x1="981" y1="250" x2="1001" y2="232"/>
</g>
<g class="tb">
<text x="764" y="128">门 窗 名 称</text><text x="805" y="128">门窗编号</text><text x="837.5" y="128">洞口尺寸</text>
<text x="917" y="120">门 窗 数 量</text>
<text x="863" y="132.5">一层</text><text x="879" y="132.5">二层</text><text x="896" y="132.5">三层</text><text x="919" y="132.5">四层</text><text x="940.5" y="132.5">五层</text><text x="957" y="132.5">屋面</text><text x="972.5" y="132.5">合计</text>
<text x="991" y="122">窗台高</text><text x="991" y="132">(h=)</text>
<text x="1026" y="128">参 考 图 集</text><text x="1068.5" y="128">备注</text>

<text x="764" y="155">乙级防火门</text><text x="764" y="164">(子母门)</text>
<text x="764" y="191.3">彩钢卷帘门</text>
<text x="764" y="220.5">镶板木质平开门</text>
<text x="764" y="243.6">夹板平开门</text>
<text x="764" y="266.7">固定玻璃</text>
<text x="764" y="295.7">塑钢推拉窗</text>
<text x="764" y="318.9">百叶窗</text>
<text x="764" y="371.3">塑钢高窗</text>
<text x="764" y="388.5">塑钢转角窗</text>

<text x="1026" y="168.1">参03J609</text>
<text x="1026" y="220.5">参03J601-2/M4</text>
<text x="1026" y="243.6">参照2003J101</text>
<text x="1026" y="307.3">参照2003J101</text>
<text x="1026" y="371.3">参照2003J101</text>
<text x="1068.5" y="168.1">成品甲方自理</text>
<text x="1068.5" y="191.3">成品甲方自理</text>
<text x="1068.5" y="220.5">成品甲方自理</text>
<text x="1068.5" y="243.6">成品甲方自理</text>
<text x="1068.5" y="307.3">成品甲方自理</text>
<text x="1068.5" y="371.3">成品甲方自理</text>
<text x="1068.5" y="388.5">成品甲方自理</text>

<text x="805" y="144.9">FM-1</text><text x="837.5" y="144.9">1500x2200</text><text x="863" y="144.9">4</text><text x="879" y="144.9">2</text><text x="896" y="144.9">2</text><text x="919" y="144.9">2</text><text x="940.5" y="144.9">2</text><text x="957" y="144.9">2</text><text x="972.5" y="144.9">14</text>
<text x="805" y="156.5">FM-2</text><text x="837.5" y="156.5">1500x2200</text><text x="879" y="156.5">2</text><text x="896" y="156.5">2</text><text x="919" y="156.5">2</text><text x="940.5" y="156.5">2</text><text x="957" y="156.5">2</text><text x="972.5" y="156.5">10</text>
<text x="805" y="168.1">FM-3</text><text x="837.5" y="168.1">900x2200</text><text x="863" y="168.1">2</text><text x="972.5" y="168.1">2</text>
<text x="805" y="179.7">JLM-1</text><text x="837.5" y="179.7">3600x3600</text><text x="863" y="179.7">4</text><text x="972.5" y="179.7">4</text>
<text x="805" y="191.3">JLM-2</text><text x="837.5" y="191.3">3850x3600</text><text x="863" y="191.3">2</text><text x="972.5" y="191.3">2</text>
<text x="805" y="202.9">JLM-3</text><text x="837.5" y="202.9">3250x3600</text><text x="863" y="202.9">2</text><text x="972.5" y="202.9">2</text>
<text x="805" y="214.5">JM-1</text><text x="837.5" y="214.5">900x2100</text><text x="863" y="214.5">2</text><text x="879" y="214.5">5</text><text x="896" y="214.5">10</text><text x="919" y="214.5">10</text><text x="940.5" y="214.5">10</text><text x="972.5" y="214.5">40</text>
<text x="805" y="226.1">JM-2</text><text x="837.5" y="226.1">900x2100</text><text x="863" y="226.1">2</text><text x="879" y="226.1">2</text><text x="896" y="226.1">2</text><text x="919" y="226.1">2</text><text x="940.5" y="226.1">2</text><text x="972.5" y="226.1">10</text>
<text x="805" y="237.7">M-1</text><text x="837.5" y="237.7">1800x2100</text><text x="863" y="237.7">4</text><text x="879" y="237.7">5</text><text x="896" y="237.7">6</text><text x="919" y="237.7">6</text><text x="940.5" y="237.7">6</text><text x="957" y="237.7">2</text><text x="972.5" y="237.7">29</text>
<text x="805" y="249.3">M-2</text><text x="837.5" y="249.3">1500x3600</text><text x="863" y="249.3">4</text><text x="972.5" y="249.3">4</text>
<text x="805" y="260.9">C-1</text><text x="837.5" y="260.9">1700x2900</text><text x="863" y="260.9">2</text><text x="972.5" y="260.9">2</text><text x="991" y="260.9">h=500</text>
<text x="805" y="272.5">C-2</text><text x="837.5" y="272.5">3500x2900</text><text x="863" y="272.5">2</text><text x="972.5" y="272.5">2</text><text x="991" y="272.5">h=500</text>
<text x="805" y="284.1">TC-1</text><text x="837.5" y="284.1">2400x1900</text><text x="863" y="284.1">6</text><text x="879" y="284.1">16</text><text x="896" y="284.1">16</text><text x="919" y="284.1">16</text><text x="940.5" y="284.1">8</text><text x="972.5" y="284.1">62</text><text x="991" y="284.1">h=1000</text>
<text x="805" y="295.7">TC-2</text><text x="837.5" y="295.7">1500x1400</text><text x="879" y="295.7">2</text><text x="896" y="295.7">2</text><text x="919" y="295.7">2</text><text x="940.5" y="295.7">2</text><text x="957" y="295.7">2</text><text x="972.5" y="295.7">10</text><text x="991" y="295.7">h自梁底</text>
<text x="805" y="307.3">TC-3</text><text x="837.5" y="307.3">1500x1500</text><text x="940.5" y="307.3">8</text><text x="972.5" y="307.3">8</text><text x="991" y="307.3">h=1000</text>
<text x="805" y="318.9">TC-4</text><text x="837.5" y="318.9">1800x1900</text><text x="879" y="318.9">1</text><text x="896" y="318.9">1</text><text x="919" y="318.9">1</text><text x="940.5" y="318.9">1</text><text x="972.5" y="318.9">4</text><text x="991" y="318.9">h=1000</text>
<text x="805" y="330.5">TC-5</text><text x="837.5" y="330.5">1800x1500</text><text x="879" y="330.5">1</text><text x="896" y="330.5">1</text><text x="919" y="330.5">1</text><text x="940.5" y="330.5">1</text><text x="972.5" y="330.5">4</text><text x="991" y="330.5">h自梁底</text>
<text x="805" y="342.1">TC-6</text><text x="837.5" y="342.1">1800x2500</text><text x="879" y="342.1">1</text><text x="896" y="342.1">1</text><text x="919" y="342.1">1</text><text x="940.5" y="342.1">1</text><text x="972.5" y="342.1">4</text><text x="991" y="342.1">h自梁底</text>
<text x="805" y="353.7">TC-7</text><text x="837.5" y="353.7">1200x1500</text><text x="879" y="353.7">4</text><text x="896" y="353.7">4</text><text x="919" y="353.7">4</text><text x="940.5" y="353.7">4</text><text x="957" y="353.7">3</text><text x="972.5" y="353.7">15</text><text x="991" y="353.7">h=1000</text>
<text x="805" y="365.3">GC-1</text><text x="837.5" y="365.3">900x1500</text><text x="863" y="365.3">2</text><text x="972.5" y="365.3">2</text><text x="991" y="365.3">h=1300</text>
<text x="805" y="376.9">GC-2A</text><text x="837.5" y="376.9">900x1200</text><text x="879" y="376.9">4</text><text x="896" y="376.9">4</text><text x="919" y="376.9">4</text><text x="940.5" y="376.9">4</text><text x="957" y="376.9">4</text><text x="972.5" y="376.9">20</text><text x="991" y="376.9">h自梁底</text>
<text x="805" y="388.5">ZJC-1</text><text x="837.5" y="388.5">2600x2500</text><text x="879" y="388.5">1</text><text x="896" y="388.5">1</text><text x="919" y="388.5">1</text><text x="940.5" y="388.5">1</text><text x="972.5" y="388.5">4</text><text x="991" y="388.5">h自梁底</text>
</g>

<!-- ===== NOTES ===== -->
<text x="722" y="549" textLength="95" lengthAdjust="spacingAndGlyphs" style="font-size:14px;fill:#5cc85c">门窗表编制说明:</text>
<g stroke="#dcdcdc" stroke-width="0.7">
<line x1="722" y1="565" x2="985" y2="565"/><line x1="722" y1="580" x2="985" y2="580"/><line x1="722" y1="595" x2="985" y2="595"/><line x1="722" y1="612" x2="985" y2="612"/><line x1="722" y1="631" x2="985" y2="631"/><line x1="722" y1="650" x2="985" y2="650"/><line x1="722" y1="663" x2="985" y2="663"/><line x1="722" y1="675" x2="985" y2="675"/><line x1="722" y1="692" x2="985" y2="692"/><line x1="722" y1="708" x2="985" y2="708"/><line x1="722" y1="724" x2="985" y2="724"/><line x1="722" y1="741" x2="985" y2="741"/><line x1="722" y1="757" x2="985" y2="757"/>
</g>
<g class="n">
<text x="722" y="563" textLength="243" lengthAdjust="spacingAndGlyphs" style="font-size:7px">1.窗台高于详见立面图,凡窗台净高低于900,于窗内设台也要做栏杆扶手维护(H=1100)。</text>
<text x="722" y="578" textLength="93" lengthAdjust="spacingAndGlyphs">2、以下部位应使用安全玻璃:</text>
<text x="722" y="593" textLength="120" lengthAdjust="spacingAndGlyphs">(1).外开窗须采用安全玻璃。</text>
<text x="722" y="610" textLength="160" lengthAdjust="spacingAndGlyphs">(2).面积&gt;0.5m² 的有框门玻璃应采用安全玻璃。</text>
<text x="722" y="629" textLength="158" lengthAdjust="spacingAndGlyphs">(3).单块面积&gt;1.5m² 的玻璃也应采用安全玻璃。</text>
<text x="722" y="648" textLength="238" lengthAdjust="spacingAndGlyphs">(4) 凡有落地门窗(包括窗台高度少于500的窗)及离最终装修面小于0.5M</text>
<text x="740" y="661" textLength="132" lengthAdjust="spacingAndGlyphs" style="font-size:7px">或出入口、门厅等部位的玻璃采用安全玻璃。</text>
<text x="727" y="673" textLength="258" lengthAdjust="spacingAndGlyphs" style="font-size:7px">3.门窗所注门窗标大小等图集尺寸内,由厂家设计施工并有设计单位复核满足规范要求后方可施工。</text>
<text x="727" y="690" textLength="80" lengthAdjust="spacingAndGlyphs">4.门、窗尺寸以洞口尺寸为准。</text>
<text x="727" y="706" textLength="223" lengthAdjust="spacingAndGlyphs">5.塑钢窗钢门、窗安装制作采用国家图2003J101;木质门采用03J601-2。</text>
<text x="727" y="722" textLength="165" lengthAdjust="spacingAndGlyphs" style="font-size:7px">6.窗采用90系列推拉塑钢窗 窗空气渗透性能应符合下列规定:</text>
<text x="735" y="739" textLength="225" lengthAdjust="spacingAndGlyphs" style="font-size:7px">在冬季室外平均风速大于或等于3.0m/s的地区,1-7层建筑外窗气密性不低于3级</text>
<text x="735" y="755" textLength="85" lengthAdjust="spacingAndGlyphs" style="font-size:7px">A—九层外窗气密性不低于4级</text>
</g>

<!-- ===== WINDOW DETAILS ===== -->
<!-- TC-1 -->
<g class="cy" stroke-width="0.9">
<rect x="1215.5" y="75.7" width="87" height="66.8"/><line x1="1215.5" y1="101" x2="1302.5" y2="101"/><line x1="1259" y1="75.7" x2="1259" y2="142.5"/><line x1="1237.8" y1="101" x2="1237.8" y2="142.5"/><line x1="1281.7" y1="101" x2="1281.7" y2="142.5"/>
</g>
<g class="d">
<line x1="1172.6" y1="75.7" x2="1172.6" y2="142.5"/><line x1="1187.9" y1="75.7" x2="1187.9" y2="142.5"/>
<line x1="1168" y1="75.7" x2="1210" y2="75.7"/><line x1="1183" y1="101" x2="1210" y2="101"/><line x1="1168" y1="142.5" x2="1210" y2="142.5"/>
<line x1="1215.5" y1="147" x2="1215.5" y2="182"/><line x1="1237.8" y1="147" x2="1237.8" y2="170"/><line x1="1259" y1="147" x2="1259" y2="170"/><line x1="1281.7" y1="147" x2="1281.7" y2="170"/><line x1="1302.5" y1="147" x2="1302.5" y2="182"/>
<line x1="1213" y1="166.9" x2="1305" y2="166.9"/><line x1="1213" y1="178.7" x2="1305" y2="178.7"/>
<line x1="1221" y1="118.9" x2="1234" y2="118.9"/><line x1="1241" y1="118.9" x2="1254" y2="118.9"/><line x1="1264" y1="118.9" x2="1278" y2="118.9"/><line x1="1286" y1="118.9" x2="1299" y2="118.9"/>
</g>
<g><use href="#tk" x="1172.6" y="75.7"/><use href="#tk" x="1172.6" y="142.5"/><use href="#tk" x="1187.9" y="75.7"/><use href="#tk" x="1187.9" y="101"/><use href="#tk" x="1187.9" y="142.5"/>
<use href="#tk" x="1215.5" y="166.9"/><use href="#tk" x="1237.8" y="166.9"/><use href="#tk" x="1259" y="166.9"/><use href="#tk" x="1281.7" y="166.9"/><use href="#tk" x="1302.5" y="166.9"/><use href="#tk" x="1215.5" y="178.7"/><use href="#tk" x="1302.5" y="178.7"/></g>
<g class="tm"><text transform="translate(1170,109) rotate(-90)">1900</text><text transform="translate(1185.5,88) rotate(-90)">700</text><text transform="translate(1185.5,122) rotate(-90)">1250</text>
<text x="1226.6" y="163.5">600</text><text x="1248.4" y="163.5">600</text><text x="1270.3" y="163.5">600</text><text x="1292" y="163.5">600</text><text x="1259" y="176">2400</text></g>
<text x="1226.7" y="221" class="mg" textLength="34" lengthAdjust="spacingAndGlyphs">TC-1</text>
<line x1="1218" y1="222.5" x2="1272" y2="222.5" stroke="#111" stroke-width="3"/>
<text x="1276" y="225" class="ms" textLength="29" lengthAdjust="spacingAndGlyphs">1:50</text>

<!-- TC-2 -->
<g class="cy" stroke-width="0.9"><rect x="1229" y="255.3" width="55" height="49.3"/><line x1="1257" y1="255.3" x2="1257" y2="304.6"/></g>
<g class="d">
<line x1="1201.4" y1="255.3" x2="1201.4" y2="304.6"/><line x1="1197" y1="255.3" x2="1226.6" y2="255.3"/><line x1="1197" y1="304.6" x2="1226.6" y2="304.6"/>
<line x1="1229" y1="312" x2="1229" y2="352"/><line x1="1257" y1="312" x2="1257" y2="338"/><line x1="1284" y1="312" x2="1284" y2="352"/>
<line x1="1226" y1="334" x2="1287" y2="334"/><line x1="1226" y1="348.5" x2="1287" y2="348.5"/>
<line x1="1237" y1="279" x2="1252" y2="279"/><line x1="1259" y1="279" x2="1274" y2="279"/>
</g>
<g><use href="#tk" x="1201.4" y="255.3"/><use href="#tk" x="1201.4" y="304.6"/><use href="#tk" x="1229" y="334"/><use href="#tk" x="1257" y="334"/><use href="#tk" x="1284" y="334"/><use href="#tk" x="1229" y="348.5"/><use href="#tk" x="1284" y="348.5"/></g>
<g class="tm"><text transform="translate(1198,280) rotate(-90)">1400</text><text x="1243" y="331">750</text><text x="1270.5" y="331">750</text><text x="1257" y="345.5">1500</text></g>
<text x="1226.7" y="391" class="mg" textLength="34" lengthAdjust="spacingAndGlyphs">TC-2</text>
<line x1="1218" y1="392.5" x2="1272" y2="392.5" stroke="#111" stroke-width="3"/>
<text x="1276" y="395" class="ms" textLength="29" lengthAdjust="spacingAndGlyphs">1:50</text>

<!-- TC-3 -->
<g class="cy" stroke-width="0.9"><rect x="1229" y="436.9" width="55" height="53.3"/><line x1="1257" y1="436.9" x2="1257" y2="490.2"/></g>
<g class="d">
<line x1="1201.4" y1="436.9" x2="1201.4" y2="490.2"/><line x1="1197" y1="436.9" x2="1226.6" y2="436.9"/><line x1="1197" y1="490.2" x2="1226.6" y2="490.2"/>
<line x1="1229" y1="497" x2="1229" y2="539"/><line x1="1257" y1="497" x2="1257" y2="523"/><line x1="1284" y1="497" x2="1284" y2="539"/>
<line x1="1226" y1="519.6" x2="1287" y2="519.6"/><line x1="1226" y1="535.5" x2="1287" y2="535.5"/>
<line x1="1237" y1="464" x2="1252" y2="464"/><line x1="1259" y1="464" x2="1274" y2="464"/>
</g>
<g><use href="#tk" x="1201.4" y="436.9"/><use href="#tk" x="1201.4" y="490.2"/><use href="#tk" x="1229" y="519.6"/><use href="#tk" x="1257" y="519.6"/><use href="#tk" x="1284" y="519.6"/><use href="#tk" x="1229" y="535.5"/><use href="#tk" x="1284" y="535.5"/></g>
<g class="tm"><text transform="translate(1198,463.5) rotate(-90)">1500</text><text x="1243" y="516.5">750</text><text x="1270.5" y="516.5">750</text><text x="1257" y="532.5">1500</text></g>
<text x="1226.7" y="573" class="mg" textLength="34" lengthAdjust="spacingAndGlyphs">TC-3</text>
<line x1="1218" y1="575.4" x2="1272" y2="575.4" stroke="#111" stroke-width="3"/>
<text x="1276" y="579" class="ms" textLength="29" lengthAdjust="spacingAndGlyphs">1:50</text>

<!-- TC-4 -->
<g class="cy" stroke-width="0.9"><rect x="1042.5" y="467.9" width="63.7" height="67.4"/><line x1="1074.2" y1="467.9" x2="1074.2" y2="535.3"/></g>
<g class="d">
<line x1="1014.7" y1="467.9" x2="1014.7" y2="535.3"/><line x1="1010" y1="467.9" x2="1035" y2="467.9"/><line x1="1010" y1="535.3" x2="1035" y2="535.3"/>
<line x1="1042.5" y1="542" x2="1042.5" y2="582"/><line x1="1074.2" y1="542" x2="1074.2" y2="568"/><line x1="1106.2" y1="542" x2="1106.2" y2="582"/>
<line x1="1040" y1="564.7" x2="1109" y2="564.7"/><line x1="1040" y1="578.4" x2="1109" y2="578.4"/>
<line x1="1055" y1="500" x2="1069" y2="500"/><line x1="1075" y1="500" x2="1090" y2="500"/>
</g>
<g><use href="#tk" x="1014.7" y="467.9"/><use href="#tk" x="1014.7" y="535.3"/><use href="#tk" x="1042.5" y="564.7"/><use href="#tk" x="1074.2" y="564.7"/><use href="#tk" x="1106.2" y="564.7"/><use href="#tk" x="1042.5" y="578.4"/><use href="#tk" x="1106.2" y="578.4"/></g>
<g class="tm"><text transform="translate(1011.5,501.6) rotate(-90)">1900</text><text x="1058.3" y="561.5">900</text><text x="1090.2" y="561.5">900</text><text x="1074.3" y="575.5">1800</text></g>
<text x="1037.6" y="618.5" class="mg" textLength="34" lengthAdjust="spacingAndGlyphs">TC-4</text>
<line x1="1029" y1="621" x2="1081" y2="621" stroke="#111" stroke-width="3"/>
<text x="1086.6" y="626" class="ms" textLength="26" lengthAdjust="spacingAndGlyphs">1:50</text>

<!-- TC-5 -->
<g class="cy" stroke-width="0.9"><rect x="1042.5" y="685.6" width="63.7" height="52.3"/><line x1="1074.2" y1="685.6" x2="1074.2" y2="737.9"/></g>
<g class="d">
<line x1="1014.7" y1="685.6" x2="1014.7" y2="737.9"/><line x1="1010" y1="685.6" x2="1035" y2="685.6"/><line x1="1010" y1="737.9" x2="1035" y2="737.9"/>
<line x1="1042.5" y1="745" x2="1042.5" y2="785"/><line x1="1074.2" y1="745" x2="1074.2" y2="772"/><line x1="1106.2" y1="745" x2="1106.2" y2="785"/>
<line x1="1040" y1="768" x2="1109" y2="768"/><line x1="1040" y1="781" x2="1109" y2="781"/>
<line x1="1055" y1="715.7" x2="1069" y2="715.7"/><line x1="1075" y1="715.7" x2="1090" y2="715.7"/>
</g>
<g><use href="#tk" x="1014.7" y="685.6"/><use href="#tk" x="1014.7" y="737.9"/><use href="#tk" x="1042.5" y="768"/><use href="#tk" x="1074.2" y="768"/><use href="#tk" x="1106.2" y="768"/><use href="#tk" x="1042.5" y="781"/><use href="#tk" x="1106.2" y="781"/></g>
<g class="tm"><text transform="translate(1011.5,711.7) rotate(-90)">1900</text><text x="1058.3" y="764.5">900</text><text x="1090.2" y="764.5">900</text><text x="1074.3" y="778">1800</text></g>
<text x="1037.6" y="820" class="mg" textLength="34" lengthAdjust="spacingAndGlyphs">TC-5</text>
<line x1="1029" y1="825" x2="1081" y2="825" stroke="#111" stroke-width="3"/>
<text x="1086.6" y="828" class="ms" textLength="26" lengthAdjust="spacingAndGlyphs">1:50</text>

<!-- TC-6 -->
<g class="cy" stroke-width="0.9"><rect x="1223.9" y="647" width="63.7" height="87.6"/><line x1="1223.9" y1="675.8" x2="1287.6" y2="675.8"/><line x1="1223.9" y1="706.9" x2="1287.6" y2="706.9"/></g>
<polyline points="1224,734.6 1256,706.9 1287.6,734.6" class="k" stroke-width="0.8"/>
<line x1="1287.6" y1="647" x2="1287.6" y2="734.6" class="k" stroke-width="0.7"/>
<g class="d">
<line x1="1183.7" y1="647" x2="1183.7" y2="734.6"/><line x1="1196.7" y1="647" x2="1196.7" y2="734.6"/>
<line x1="1180" y1="647" x2="1217" y2="647"/><line x1="1193" y1="675.8" x2="1217" y2="675.8"/><line x1="1193" y1="706.9" x2="1217" y2="706.9"/><line x1="1180" y1="734.6" x2="1217" y2="734.6"/>
<line x1="1223.9" y1="741" x2="1223.9" y2="766"/><line x1="1287.6" y1="741" x2="1287.6" y2="766"/>
<line x1="1221" y1="762.2" x2="1291" y2="762.2"/>
</g>
<g><use href="#tk" x="1183.7" y="647"/><use href="#tk" x="1183.7" y="734.6"/><use href="#tk" x="1196.7" y="647"/><use href="#tk" x="1196.7" y="675.8"/><use href="#tk" x="1196.7" y="706.9"/><use href="#tk" x="1196.7" y="734.6"/><use href="#tk" x="1223.9" y="762.2"/><use href="#tk" x="1287.6" y="762.2"/></g>
<g class="tm"><text transform="translate(1180.5,691) rotate(-90)">2500</text><text transform="translate(1194,661.4) rotate(-90)">800</text><text transform="translate(1194,691.4) rotate(-90)">900</text><text transform="translate(1194,720.8) rotate(-90)">800</text><text x="1255.7" y="758.5">1800</text></g>
<text x="1231.4" y="789.3" class="mg" textLength="34" lengthAdjust="spacingAndGlyphs">TC-6</text>
<line x1="1224" y1="795.5" x2="1282.7" y2="795.5" stroke="#111" stroke-width="3"/>
<text x="1297.4" y="800" class="ms" textLength="23" lengthAdjust="spacingAndGlyphs">1:50</text>

<!-- TC-7 -->
<g class="cy" stroke-width="0.9"><rect x="1068" y="884" width="42.5" height="52.3"/><line x1="1068" y1="904.6" x2="1110.5" y2="904.6"/><line x1="1089.2" y1="904.6" x2="1089.2" y2="936.3"/></g>
<g class="d">
<line x1="1027.8" y1="884" x2="1027.8" y2="936.3"/><line x1="1042.5" y1="884" x2="1042.5" y2="936.3"/>
<line x1="1023" y1="884" x2="1062" y2="884"/><line x1="1038" y1="904.6" x2="1062" y2="904.6"/><line x1="1023" y1="936.3" x2="1062" y2="936.3"/>
<line x1="1068" y1="942" x2="1068" y2="978"/><line x1="1089.2" y1="942" x2="1089.2" y2="964"/><line x1="1110.5" y1="942" x2="1110.5" y2="978"/>
<line x1="1065" y1="960.8" x2="1113" y2="960.8"/><line x1="1065" y1="973.9" x2="1113" y2="973.9"/>
<line x1="1071" y1="914.4" x2="1085" y2="914.4"/><line x1="1092" y1="914.4" x2="1106" y2="914.4"/>
</g>
<g><use href="#tk" x="1027.8" y="884"/><use href="#tk" x="1027.8" y="936.3"/><use href="#tk" x="1042.5" y="884"/><use href="#tk" x="1042.5" y="904.6"/><use href="#tk" x="1042.5" y="936.3"/><use href="#tk" x="1068" y="960.8"/><use href="#tk" x="1089.2" y="960.8"/><use href="#tk" x="1110.5" y="960.8"/><use href="#tk" x="1068" y="973.9"/><use href="#tk" x="1110.5" y="973.9"/></g>
<g class="tm"><text transform="translate(1024.5,910) rotate(-90)">1500</text><text transform="translate(1039.5,894) rotate(-90)">600</text><text transform="translate(1039.5,920) rotate(-90)">900</text><text x="1078.6" y="957.5">600</text><text x="1099.8" y="957.5">600</text><text x="1089.2" y="970.5">1200</text></g>
<text x="1062.7" y="1014" class="mg" textLength="34" lengthAdjust="spacingAndGlyphs">TC-7</text>
<line x1="1054.6" y1="1019.5" x2="1113.4" y2="1019.5" stroke="#111" stroke-width="3"/>
<text x="1116" y="1023" class="ms" textLength="26" lengthAdjust="spacingAndGlyphs">1:50</text>

<!-- ZJC-1 -->
<g class="cy" stroke-width="0.9"><rect x="1217.3" y="849.7" width="91.5" height="87.6"/><line x1="1217.3" y1="877.5" x2="1308.8" y2="877.5"/><line x1="1217.3" y1="908.5" x2="1308.8" y2="908.5"/><line x1="1245.8" y1="849.7" x2="1245.8" y2="937.3"/></g>
<g class="k" stroke-width="0.8">
<polyline points="1217.3,908.5 1232,877.5 1245.8,908.5"/><polyline points="1217.3,937.3 1232,907.9 1245.8,937.3"/>
<polyline points="1245.8,869.4 1259.8,831.9 1286,831.9" stroke-width="0.6"/>
<polyline points="1225.5,927.5 1225.5,950 1188,950" stroke-width="0.6"/>
</g>
<circle cx="1225.5" cy="927.5" r="1" fill="#111"/>
<text x="1264.7" y="829" style="font-size:5.5px;fill:#333">转角线</text>
<text x="1193" y="948" style="font-size:5.5px;fill:#333">可开扇</text>
<g class="d">
<line x1="1176.5" y1="849.7" x2="1176.5" y2="937.3"/><line x1="1189.5" y1="849.7" x2="1189.5" y2="937.3"/>
<line x1="1172" y1="849.7" x2="1211" y2="849.7"/><line x1="1185" y1="877.5" x2="1211" y2="877.5"/><line x1="1185" y1="908.5" x2="1211" y2="908.5"/><line x1="1172" y1="937.3" x2="1211" y2="937.3"/>
<line x1="1217.3" y1="953" x2="1217.3" y2="980"/><line x1="1245.8" y1="953" x2="1245.8" y2="965"/><line x1="1308.8" y1="942" x2="1308.8" y2="980"/>
<line x1="1214" y1="960.8" x2="1312" y2="960.8"/><line x1="1214" y1="975.5" x2="1312" y2="975.5"/>
</g>
<g><use href="#tk" x="1176.5" y="849.7"/><use href="#tk" x="1176.5" y="937.3"/><use href="#tk" x="1189.5" y="849.7"/><use href="#tk" x="1189.5" y="877.5"/><use href="#tk" x="1189.5" y="908.5"/><use href="#tk" x="1189.5" y="937.3"/><use href="#tk" x="1217.3" y="960.8"/><use href="#tk" x="1245.8" y="960.8"/><use href="#tk" x="1308.8" y="960.8"/><use href="#tk" x="1217.3" y="975.5"/><use href="#tk" x="1308.8" y="975.5"/></g>
<g class="tm"><text transform="translate(1173.5,893.5) rotate(-90)">2500</text><text transform="translate(1187,863.6) rotate(-90)">800</text><text transform="translate(1187,893) rotate(-90)">900</text><text transform="translate(1187,923) rotate(-90)">800</text><text x="1232" y="958">800</text><text x="1278" y="958">1800</text><text x="1263.6" y="972">2600</text></g>
<text x="1238.6" y="1012.7" class="mg" textLength="41" lengthAdjust="spacingAndGlyphs">ZJC-1</text>
<line x1="1228.8" y1="1017.5" x2="1287.6" y2="1017.5" stroke="#111" stroke-width="3"/>
<text x="1302" y="1020" class="ms" textLength="23" lengthAdjust="spacingAndGlyphs">1:50</text>

<!-- ===== TITLE BLOCK ===== -->
<g stroke="#555" stroke-width="0.7">
<line x1="1380" y1="187" x2="1503" y2="187"/><line x1="1380" y1="262" x2="1503" y2="262"/><line x1="1380" y1="366" x2="1503" y2="366"/><line x1="1380" y1="477" x2="1503" y2="477"/><line x1="1380" y1="580" x2="1503" y2="580"/><line x1="1380" y1="655" x2="1503" y2="655"/><line x1="1380" y1="740" x2="1503" y2="740"/><line x1="1380" y1="790" x2="1503" y2="790"/>
<line x1="1380" y1="868.6" x2="1503" y2="868.6" stroke="#222"/><line x1="1380" y1="880" x2="1503" y2="880"/><line x1="1380" y1="891" x2="1503" y2="891"/><line x1="1380" y1="902.5" x2="1503" y2="902.5" stroke="#222"/><line x1="1380" y1="915.5" x2="1503" y2="915.5"/><line x1="1380" y1="928.5" x2="1503" y2="928.5"/><line x1="1380" y1="942" x2="1503" y2="942" stroke="#222"/>
<line x1="1415.7" y1="868.6" x2="1415.7" y2="942"/><line x1="1460.8" y1="868.6" x2="1460.8" y2="942"/>
<line x1="1380" y1="1035" x2="1503" y2="1035" stroke="#222"/><line x1="1380" y1="1046" x2="1503" y2="1046"/>
<line x1="1446" y1="1035" x2="1446" y2="1056"/><line x1="1470.6" y1="1035" x2="1470.6" y2="1056"/>
</g>
<g class="tt">
<text x="1384" y="196">备注:</text>
<text x="1384" y="271">施工图审查批准单位:</text>
<text x="1384" y="375">施工图审查批准书证号:</text>
<text x="1384" y="486">图纸专用章</text>
<text x="1384" y="589">注册建筑师执业章</text>
<text x="1384" y="664">注册结构师执业章</text>
<text x="1384" y="749">工程名称:</text>
<text x="1384" y="799">建设单位:</text>
<text x="1384" y="951">签名:</text>
</g>
<text x="1442" y="773" text-anchor="middle" style="font-size:11px;fill:#e4dc5a">华南写字楼</text>
<g text-anchor="middle" style="fill:#444">
<text x="1398" y="877.5" style="font-size:7px">审 定</text>
<text x="1398" y="888" style="font-size:5.5px">工程负责人</text>
<text x="1398" y="899" style="font-size:5.5px">专业负责人</text>
<text x="1398" y="912" style="font-size:7.5px">审 核</text>
<text x="1398" y="925" style="font-size:7.5px">校 对</text>
<text x="1398" y="938.5" style="font-size:7.5px">设 计</text>
</g>
<text x="1402" y="983" style="font-size:19px;fill:#4fd3df">B－B</text>
<text x="1447" y="982" style="font-size:13px;fill:#4fd3df">剖面图</text>
<text x="1444" y="1002" text-anchor="middle" style="font-size:14px;fill:#4fd3df">门  窗  表</text>
<text x="1446" y="1020" text-anchor="middle" style="font-size:13px;fill:#4fd3df">门窗详图</text>
<g style="font-size:6px;fill:#222">
<text x="1383" y="1043">工程编号</text><text x="1450" y="1043">图 号</text>
<text x="1383" y="1054">图 别</text><text x="1418" y="1054">建 筑</text><text x="1450" y="1054">日 期</text>
</g>
<text x="1486.5" y="1043" text-anchor="middle" style="font-size:6.5px;fill:#5cc85c">12/14</text>
<text x="1486.5" y="1054" text-anchor="middle" style="font-size:6.5px;fill:#5cc85c">2018-04</text>

<!-- ===== LOGO ===== -->
<rect x="1419" y="1058" width="52" height="50" fill="#3fa864"/>
<polyline points="1426,1081 1445,1064 1464,1081" fill="none" stroke="#fff" stroke-width="4"/>
<rect x="1429" y="1084" width="14" height="3" fill="#fff"/><rect x="1434.5" y="1084" width="3" height="13" fill="#fff"/><rect x="1429" y="1095" width="14" height="3" fill="#fff"/>
<rect x="1447" y="1084" width="12" height="13" fill="none" stroke="#fff" stroke-width="2.2"/>
<rect x="1450" y="1089" width="6" height="4" fill="#fff"/>
<text x="1475" y="1085" style="font-family:'Noto Serif CJK SC','Liberation Serif',serif;font-size:24px;fill:#222;letter-spacing:2px">虫筑网</text>
<text x="1477" y="1101" style="font-family:'Liberation Serif',serif;font-size:13px;fill:#333">chongzhu.cn</text>
</svg>
</body></html>
